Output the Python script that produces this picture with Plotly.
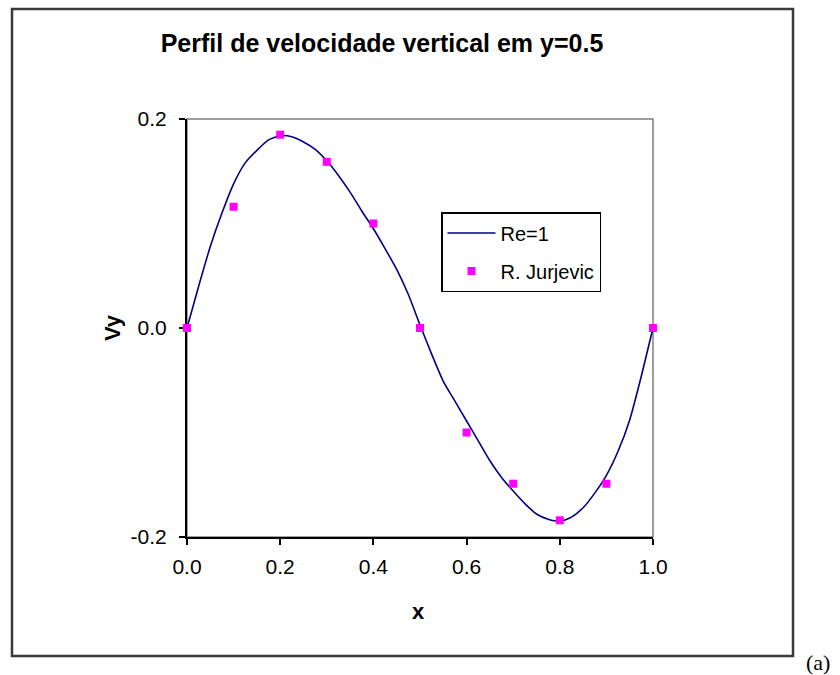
import plotly.graph_objects as go

# ---- data ----
curve_x = [0.0, 0.025, 0.05, 0.075, 0.1, 0.125, 0.15, 0.175, 0.2, 0.225, 0.25,
           0.275, 0.3, 0.325, 0.35, 0.375, 0.4, 0.425, 0.45, 0.475, 0.5,
           0.525, 0.55, 0.575, 0.6, 0.625, 0.65, 0.675, 0.7, 0.725, 0.75,
           0.775, 0.8, 0.825, 0.85, 0.875, 0.9, 0.925, 0.95, 0.975, 1.0]
curve_vy = [0.0, 0.040, 0.078, 0.110, 0.138, 0.158, 0.170, 0.180, 0.184, 0.183, 0.178,
            0.171, 0.160, 0.146, 0.130, 0.112, 0.095, 0.076, 0.056, 0.032, 0.003,
            -0.025, -0.051, -0.070, -0.089, -0.108, -0.127, -0.143, -0.156, -0.168, -0.178,
            -0.183, -0.185, -0.181, -0.172, -0.158, -0.141, -0.118, -0.088, -0.046, 0.0]

ref_x = [0.0, 0.1, 0.2, 0.3, 0.4, 0.5, 0.6, 0.7, 0.8, 0.9, 1.0]
ref_vy = [0.0, 0.116, 0.185, 0.159, 0.100, 0.0, -0.100, -0.149, -0.184, -0.149, 0.0]

x_ticks = [0.0, 0.2, 0.4, 0.6, 0.8, 1.0]
x_tick_labels = ["0.0", "0.2", "0.4", "0.6", "0.8", "1.0"]
y_ticks = [-0.2, 0.0, 0.2]
y_tick_labels = ["-0.2", "0.0", "0.2"]

title_text = "Perfil de velocidade vertical em y=0.5"
x_title = "x"
y_title = "Vy"
curve_name = "Re=1"
ref_name = "R. Jurjevic"
panel_label = "(a)"

# ---- layout geometry (pixels) ----
W, H = 840, 675
L, R, T, B = 187, 653, 119, 537
pw, ph = R - L, B - T

def px(xp):
    return (xp - L) / pw

def py(yp):
    return (B - yp) / ph

FONT = "Liberation Sans, Arial, sans-serif"

fig = go.Figure()
fig.add_trace(go.Scatter(
    x=curve_x, y=curve_vy, mode="lines", name=curve_name,
    line=dict(color="#000080", width=1.6, shape="spline", smoothing=0.6),
    legendgroup="a",
))
fig.add_trace(go.Scatter(
    x=ref_x, y=ref_vy, mode="markers", name=ref_name,
    marker=dict(symbol="square", size=8, color="#FF00FF", line=dict(width=0)),
    cliponaxis=False, legendgroup="b",
))

axis_common = dict(
    showgrid=False, zeroline=False, showline=True, linecolor="black", linewidth=2,
    ticks="outside", ticklen=6, tickwidth=1.5, tickcolor="black",
    tickfont=dict(family=FONT, size=21, color="black"),
    layer="below traces",
)

fig.update_layout(
    width=W, height=H,
    margin=dict(l=L, r=W - R, t=T, b=H - B),
    paper_bgcolor="white", plot_bgcolor="white",
    title=dict(text="<b>" + title_text + "</b>", x=382 / W, xanchor="center",
               y=1 - 43 / H, yanchor="middle", yref="container",
               font=dict(family=FONT, size=25, color="black")),
    xaxis=dict(range=[0, 1], tickvals=x_ticks, ticktext=x_tick_labels,
               ticklabelstandoff=4, **axis_common),
    yaxis=dict(range=[-0.2, 0.2], tickvals=y_ticks, ticktext=y_tick_labels,
               ticklabelstandoff=8, **axis_common),
    legend=dict(x=px(441), y=py(212), xanchor="left", yanchor="top",
                bgcolor="white", bordercolor="black", borderwidth=1.5,
                font=dict(family=FONT, size=20, color="black"),
                tracegroupgap=9, itemwidth=48),
    showlegend=True,
)

# gray frame for top/right of plot area
fig.add_shape(type="rect", xref="paper", yref="paper", x0=0, x1=1, y0=0, y1=1,
              line=dict(color="#808080", width=1.5), layer="below")
# outer chart border
fig.add_shape(type="rect", xref="paper", yref="paper",
              x0=px(12), x1=px(793), y0=py(656), y1=py(9),
              line=dict(color="#3a3a3a", width=2.5), layer="below")

# axis titles
fig.add_annotation(text="<b>" + x_title + "</b>", xref="paper", yref="paper",
                   x=px(418), y=py(611), showarrow=False,
                   xanchor="center", yanchor="middle",
                   font=dict(family=FONT, size=22, color="black"))
fig.add_annotation(text="<b>" + y_title + "</b>", xref="paper", yref="paper",
                   x=px(112), y=py(328), showarrow=False, textangle=-90,
                   xanchor="center", yanchor="middle",
                   font=dict(family=FONT, size=22, color="black"))
# panel label
fig.add_annotation(text=panel_label, xref="paper", yref="paper",
                   x=px(804), y=py(662), showarrow=False,
                   xanchor="left", yanchor="middle",
                   font=dict(family="Liberation Serif, Times New Roman, serif", size=22, color="black"))

fig.write_html("out.html")
